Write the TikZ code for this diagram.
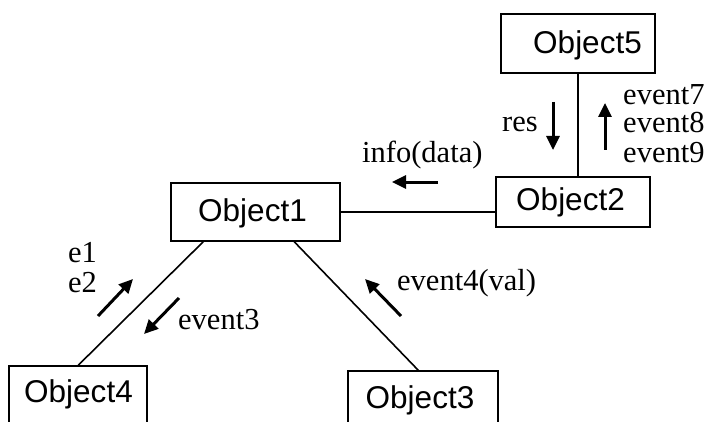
\documentclass[tikz,border=0pt]{standalone}
\usepackage{fontspec}
\setmainfont{Liberation Serif}
\newfontfamily\boxfont{Liberation Sans}
\usetikzlibrary{arrows.meta,calc}
\tikzset{
  objbox/.style={draw, line width=1.5pt, inner sep=0pt},
  objtext/.style={inner sep=0pt, font=\boxfont\fontsize{31.5}{31.5}\selectfont},
  link/.style={line width=1.6pt},
  msg/.style={line width=3pt, -{Triangle[length=14pt,width=13pt]}},
  lbl/.style={inner sep=0pt, anchor=base west, font=\fontsize{30.5}{30.5}\selectfont},
}
\begin{document}
\begin{tikzpicture}[x=1pt,y=-1pt]
\useasboundingbox (0,0) rectangle (711,422);
\clip (0,0) rectangle (711,422);

% object boxes
\node[objbox, minimum width=169pt, minimum height=58pt] (o1) at (255.5,212) {};
\node[objbox, minimum width=154pt, minimum height=50pt] (o2) at (573,202) {};
\node[objbox, minimum width=154pt, minimum height=59pt] (o5) at (578,43.5) {};
\node[objbox, minimum width=138pt, minimum height=74pt] (o4) at (78,403) {};
\node[objbox, minimum width=150pt, minimum height=74pt] (o3) at (423,408) {};

% object names
\node[objtext] (t1) at (252.5,213) {Object1};
\node[objtext] (t2) at (570.5,202.5) {Object2};
\node[objtext] (t5) at (587.5,45) {Object5};
\node[objtext] (t4) at (78.5,394) {Object4};
\node[objtext] (t3) at (420,400) {Object3};

% links between objects
\draw[link] (o1.east) -- (o1.east -| o2.west);
\draw[link] (o5.south) -- (o5.south |- o2.north);
\draw[link] ([xshift=33pt]o1.south west) -- ([xshift=70pt]o4.north west);
\draw[link] ([xshift=124pt]o1.south west) -- ([xshift=71pt]o3.north west);

% message arrows
\coordinate (m1s) at (98,316);  \coordinate (m1e) at (133,279);
\coordinate (m2s) at (179,298); \coordinate (m2e) at (144,334);
\coordinate (m3s) at (401,316); \coordinate (m3e) at (365,279);
\coordinate (m4s) at (438,182); \coordinate (m4e) at (392,182);
\coordinate (m5s) at (553,102); \coordinate (m5e) at (553,150);
\coordinate (m6s) at (605,150); \coordinate (m6e) at (605,103);
\draw[msg] (m1s) -- (m1e);
\draw[msg] (m2s) -- (m2e);
\draw[msg] (m3s) -- (m3e);
\draw[msg] (m4s) -- (m4e);
\draw[msg] (m5s) -- (m5e);
\draw[msg] (m6s) -- (m6e);

% message labels
\node[lbl] (l1a) at (68,262) {e1};
\node[lbl] (l1b) at (68,292) {e2};
\node[lbl] (l2) at (178,329) {event3};
\node[lbl] (l3) at (397,290) {event4(val)};
\node[lbl] (l4) at (362,163) {info(data)};
\node[lbl] (l5) at (502,132) {res};
\node[lbl] (l6a) at (623,105) {event7};
\node[lbl] (l6b) at (623,133) {event8};
\node[lbl] (l6c) at (623,162) {event9};
\end{tikzpicture}
\end{document}
